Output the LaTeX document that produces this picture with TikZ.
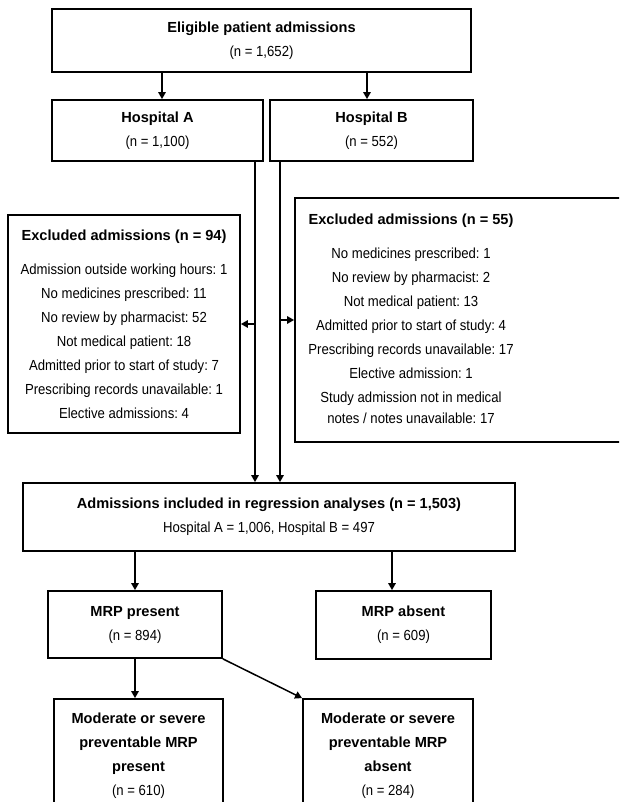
\documentclass[tikz,border=0pt]{standalone}
\usepackage{fontspec}
\setmainfont{Liberation Sans}
\newfontfamily\rmtext{Liberation Sans}[FakeStretch=0.9]
\usetikzlibrary{arrows.meta}
\frenchspacing
\newcommand{\ttl}[1]{{\normalfont\bfseries\fontsize{14.6}{24}\selectfont #1}}
\begin{document}
\begin{tikzpicture}[x=1pt,y=-1pt]
			\tikzstyle{box}=[draw, line width=1.8pt, align=center, inner sep=0pt, font=\rmtext\fontsize{14.6}{24}\selectfont]
			\tikzstyle{txt}=[align=center, inner sep=0pt, font=\rmtext\fontsize{14.6}{24}\selectfont]
			\tikzstyle{arr}=[line width=1.5pt, -{Triangle[length=7pt,width=7.5pt]}]
			\useasboundingbox (0,0) rectangle (619,802);
			\clip (0,0) rectangle (619,802);
			% boxes
			\node[box, minimum width=419pt, minimum height=63pt] (top) at (261.5,40.5) {\ttl{Eligible patient admissions}\\(n = 1,652)};
			\node[box, minimum width=211pt, minimum height=61pt] (hospA) at (157.5,130.5) {\ttl{Hospital A}\\(n = 1,100)};
			\node[box, minimum width=203pt, minimum height=61pt] (hospB) at (371.5,130.5) {\ttl{Hospital B}\\(n = 552)};
			\node[box, minimum width=232pt, minimum height=218pt] (exA) at (124,324)
			{
				\ttl{Excluded admissions (n = 94)}\\[10pt]
				Admission outside working hours: 1\\
				No medicines prescribed: 11\\
				No review by pharmacist: 52\\
				Not medical patient: 18\\
				Admitted prior to start of study: 7\\
				Prescribing records unavailable: 1\\
				Elective admissions: 4
			};
			\node[box, minimum width=345pt, minimum height=244pt] (exB) at (467.5,320) {};
			\node[txt] (exBlist) at (411,318.5)
			{
				\ttl{Excluded admissions (n = 55)}\\[10pt]
				No medicines prescribed: 1\\
				No review by pharmacist: 2\\
				Not medical patient: 13\\
				Admitted prior to start of study: 4\\
				Prescribing records unavailable: 17\\
				Elective admission: 1\\
				Study admission not in medical\\[-3pt]
				notes / notes unavailable: 17
			};
			\node[box, minimum width=492pt, minimum height=68pt] (reg) at (269,517) {\ttl{Admissions included in regression analyses (n = 1,503)}\\Hospital A = 1,006, Hospital B = 497};
			\node[box, minimum width=174pt, minimum height=67pt] (mrpP) at (135,624.5) {\ttl{MRP present}\\(n = 894)};
			\node[box, minimum width=175pt, minimum height=68pt] (mrpA) at (403.5,625) {\ttl{MRP absent}\\(n = 609)};
			\node[box, minimum width=169pt, minimum height=113pt] (modP) at (138.5,755.5) {\ttl{Moderate or severe}\\\ttl{preventable MRP}\\\ttl{present}\\(n = 610)};
			\node[box, minimum width=170pt, minimum height=113pt] (modA) at (388,755.5) {\ttl{Moderate or severe}\\\ttl{preventable MRP}\\\ttl{absent}\\(n = 284)};
			% connectors
			\coordinate (aDown) at ([xshift=97.5pt]hospA.south);
			\coordinate (bDown) at ([xshift=-91.5pt]hospB.south);
			\draw[arr] ([xshift=4.5pt]hospA.north |- top.south) -- ([xshift=4.5pt]hospA.north);
			\draw[arr] ([xshift=-4.5pt]hospB.north |- top.south) -- ([xshift=-4.5pt]hospB.north);
			\draw[arr] (aDown) -- (aDown |- reg.north);
			\draw[arr] (bDown) -- (bDown |- reg.north);
			\draw[arr] (aDown |- exA.east) -- (exA.east);
			\draw[arr] (bDown |- exB.west) -- (exB.west);
			\draw[arr] (reg.south -| mrpP.north) -- (mrpP.north);
			\draw[arr] ([xshift=-11.5pt]mrpA.north |- reg.south) -- ([xshift=-11.5pt]mrpA.north);
			\draw[arr] (mrpP.south) -- (mrpP.south |- modP.north);
			\draw[arr] (mrpP.south east) -- (modA.north west);
\end{tikzpicture}
\end{document}
